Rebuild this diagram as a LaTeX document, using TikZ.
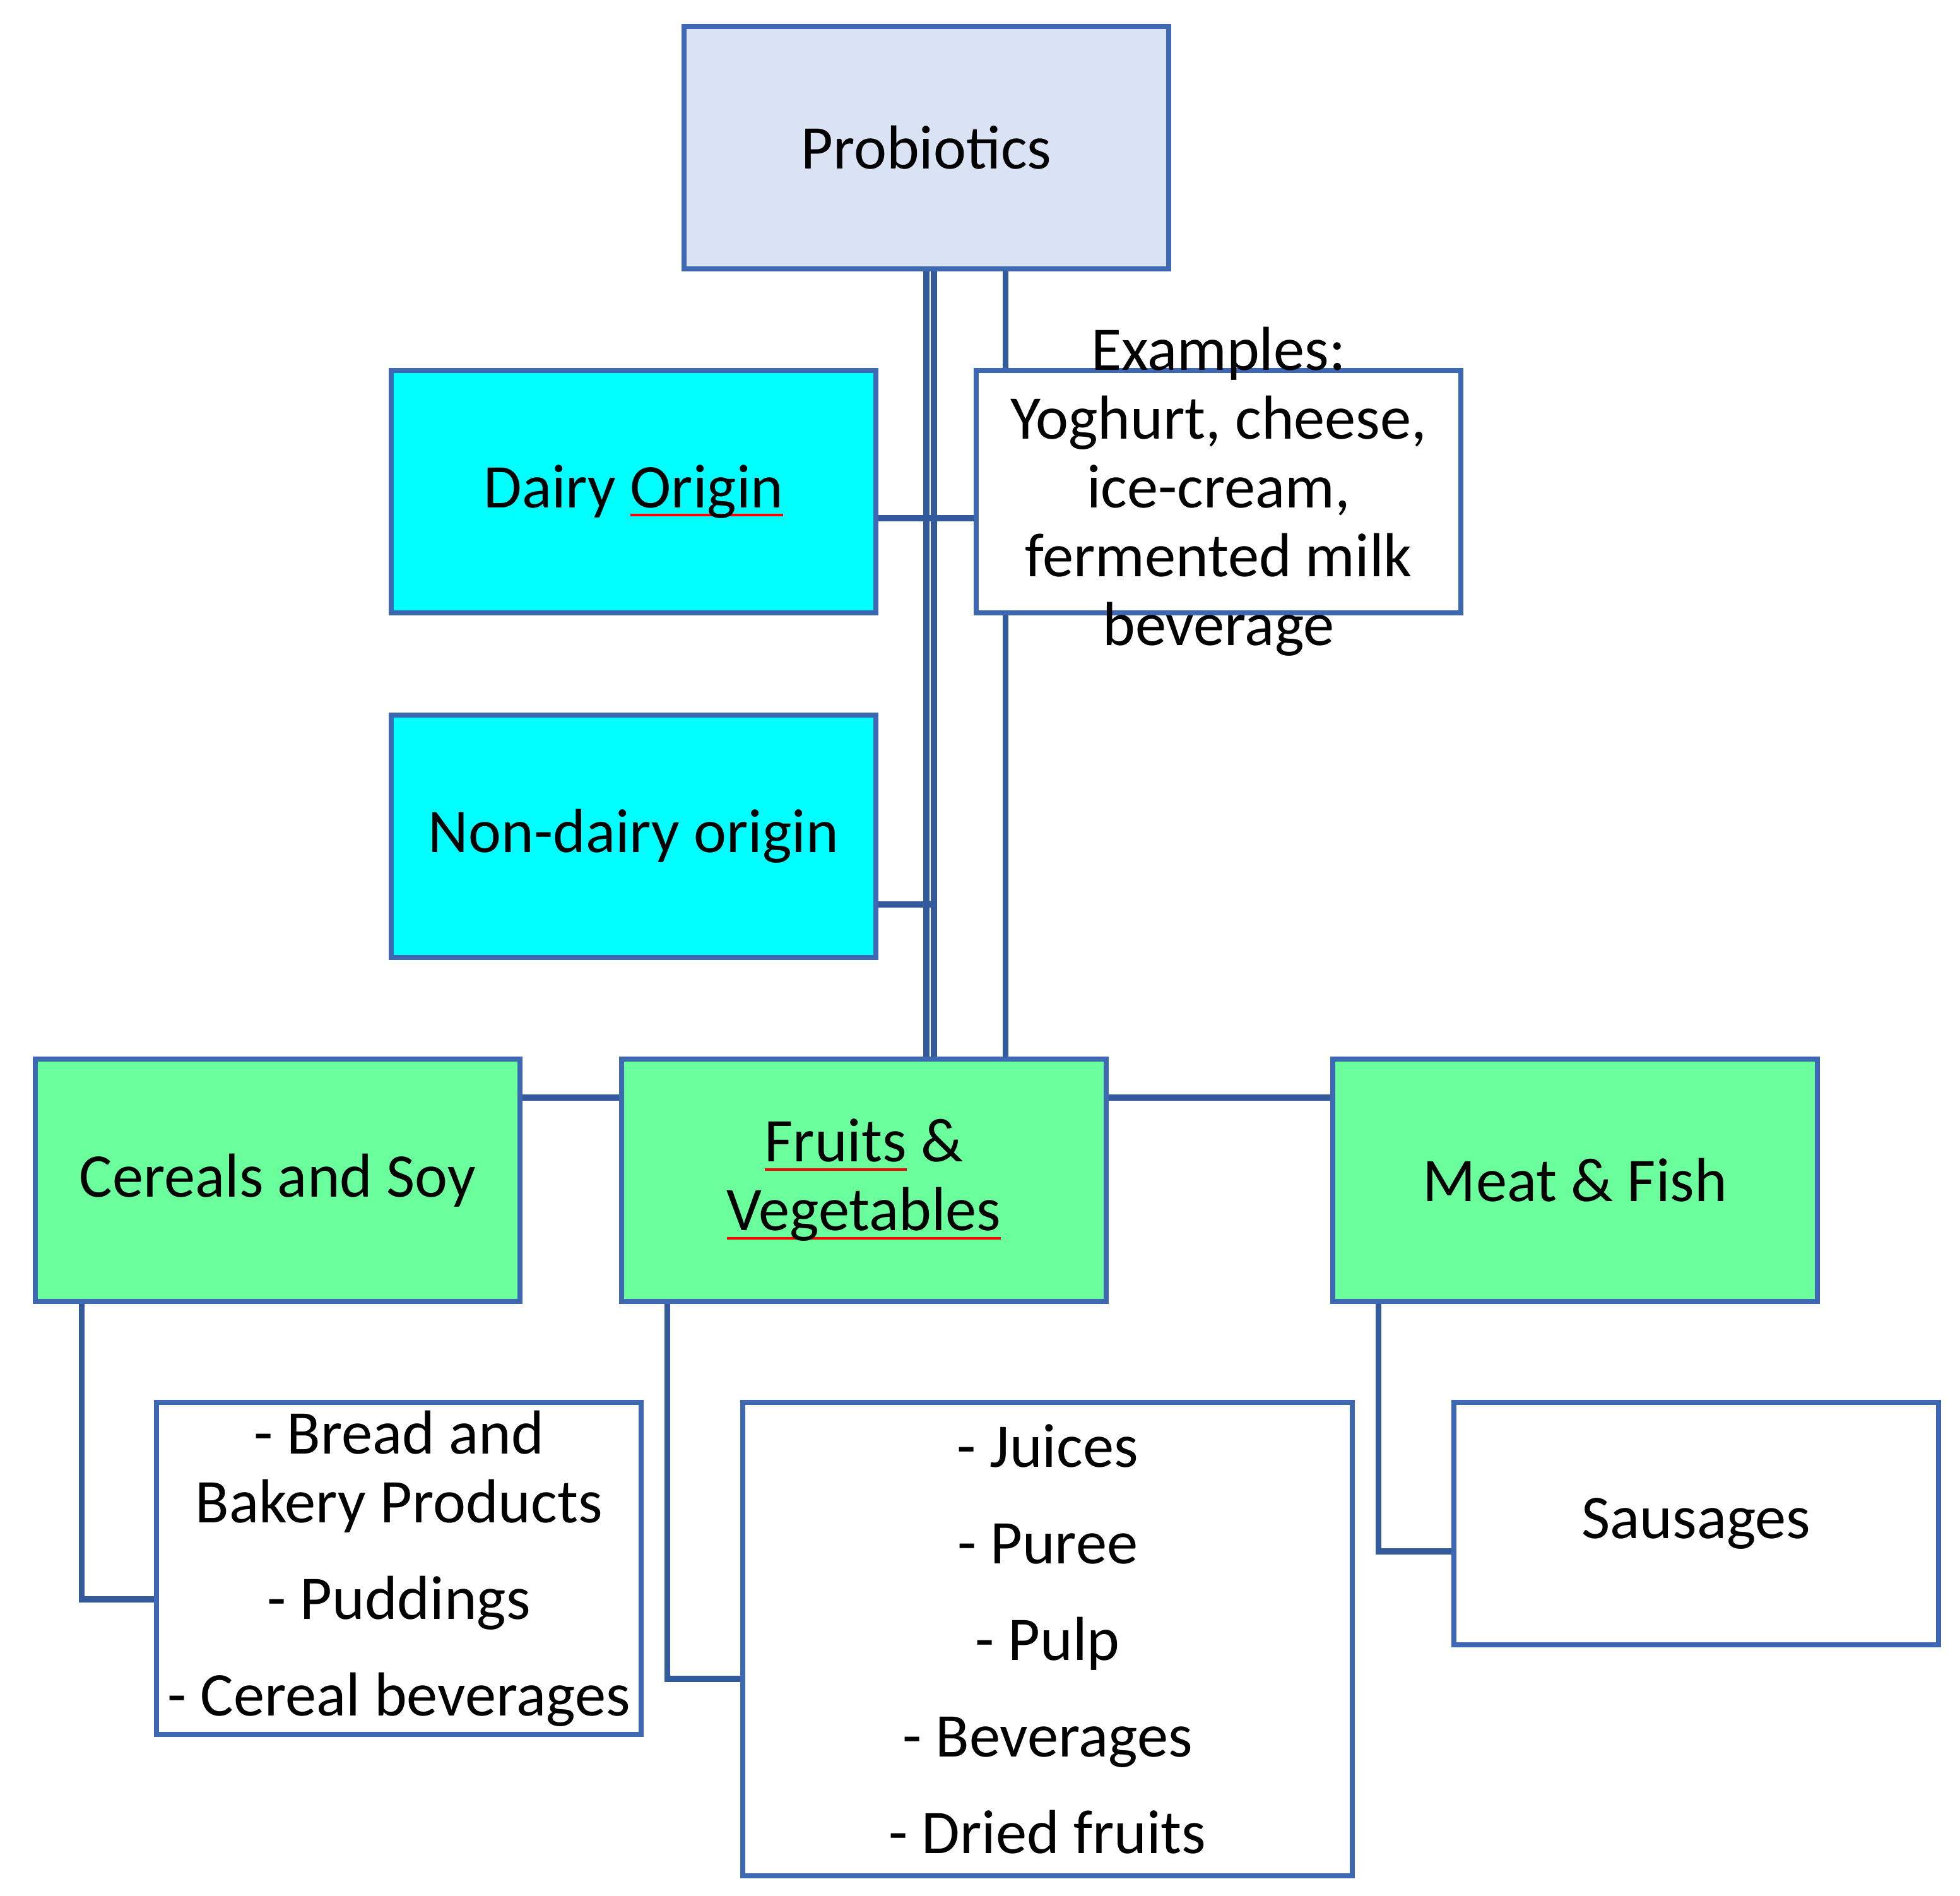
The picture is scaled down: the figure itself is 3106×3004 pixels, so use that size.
\documentclass[tikz,border=0pt]{standalone}
\usepackage{fontspec}
\setmainfont{Carlito}
\usetikzlibrary{backgrounds}
\definecolor{bord}{HTML}{3F68B2}
\definecolor{conn}{HTML}{335A9C}
\definecolor{probfill}{HTML}{DAE3F3}
\definecolor{cyanfill}{HTML}{00FFFF}
\definecolor{greenfill}{HTML}{6AFF9C}
\definecolor{spellred}{HTML}{FF0000}
\newsavebox\spbox
\newcommand\spellmark[1]{\sbox\spbox{#1}\rlap{\textcolor{spellred}{\rule[-4pt]{\wd\spbox}{1.2pt}}}\usebox\spbox}
\begin{document}
\begin{tikzpicture}[x=0.01cm,y=-0.01cm,
  boxstyle/.style={draw=bord, line width=2.3pt, minimum width=7.68cm, minimum height=3.84cm, inner sep=0pt, align=center, font=\fontsize{28}{31}\selectfont},
  txt/.style={align=center, inner sep=0pt, font=\fontsize{28}{31}\selectfont},
  link/.style={draw=conn, line width=2.6pt}]
\path[use as bounding box] (0,0) rectangle (3106,3004);
\node[boxstyle, fill=probfill] (prob) at (1468,234) {Probiotics};
\node[boxstyle, fill=cyanfill] (dairy) at (1004,779) {Dairy \spellmark{Origin}};
\node[boxstyle, fill=white] (ex) at (1931,779) {};
\node[txt] (extext) at (1931,779) {Examples:\\Yoghurt, cheese,\\ice-cream,\\fermented milk\\beverage};
\node[boxstyle, fill=cyanfill] (nd) at (1004,1325) {Non-dairy origin};
\node[boxstyle, fill=greenfill] (cs) at (440,1870) {Cereals and Soy};
\node[boxstyle, fill=greenfill] (fv) at (1369,1870) {\spellmark{Fruits} \&\\\spellmark{Vegetables}};
\node[boxstyle, fill=greenfill] (mf) at (2496,1870) {Meat \& Fish};
\node[boxstyle, fill=white, minimum height=5.25cm] (bread) at (632,2485) {- Bread and\\Bakery Products\\[0.44cm]- Puddings\\[0.44cm]- Cereal beverages};
\node[boxstyle, fill=white, minimum width=9.66cm, minimum height=7.49cm] (juice) at (1660,2597) {- Juices\\[0.44cm]- Puree\\[0.44cm]- Pulp\\[0.44cm]- Beverages\\[0.44cm]- Dried fruits};
\node[boxstyle, fill=white] (saus) at (2688,2414) {Sausages};
\begin{scope}[on background layer]
\fill[white] (0,0) rectangle (3106,3004);
\coordinate (v2) at ([xshift=0.12cm]prob.south);
\coordinate (v3) at ([xshift=1.25cm]prob.south);
\draw[link] (prob.south) -- (prob.south |- fv.north);
\draw[link] (v2) -- (v2 |- fv.north);
\draw[link] (v3) -- (v3 |- fv.north);
\coordinate (dp) at ([yshift=-0.42cm]dairy.east);
\draw[link] (dp) -- (dp -| ex.west);
\coordinate (ndp) at ([yshift=-1.08cm]nd.east);
\draw[link] (ndp) -- (ndp -| v2);
\coordinate (cfp) at ([yshift=1.31cm]cs.east);
\draw[link] (cfp) -- (cfp -| fv.west);
\coordinate (fmp) at ([yshift=1.31cm]fv.east);
\draw[link] (fmp) -- (fmp -| mf.west);
\draw[link] ([xshift=0.78cm]cs.south west) |- ([yshift=-0.49cm]bread.west);
\draw[link] ([xshift=0.77cm]fv.south west) |- ([yshift=-0.63cm]juice.west);
\draw[link] ([xshift=0.77cm]mf.south west) |- ([yshift=-0.44cm]saus.west);
\end{scope}
\end{tikzpicture}
\end{document}
